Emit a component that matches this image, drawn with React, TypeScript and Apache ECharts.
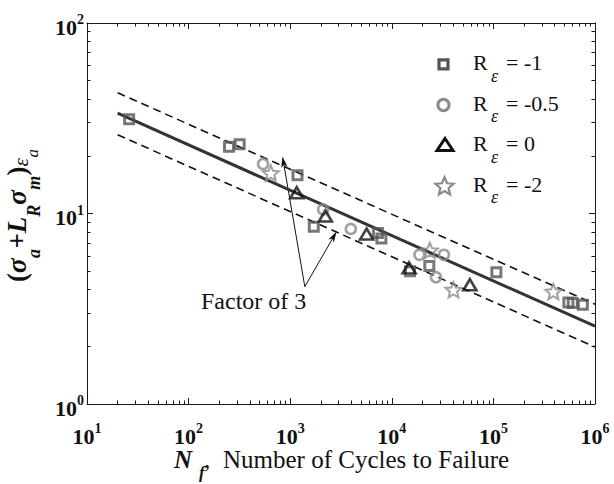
import React, { useEffect, useRef } from 'react';
import * as echarts from 'echarts';

// ---------------- data ----------------
const seriesNames = ['R_ε = -1', 'R_ε = -0.5', 'R_ε = 0', 'R_ε = -2'];
const legendValues = ['= -1', '= -0.5', '= 0', '= -2'];

const rEpsMinus1: number[][] = [
  [26, 31.2], [250, 22.4], [318, 23.1], [1180, 15.9], [1706, 8.53],
  [7300, 7.9], [7900, 7.4], [15100, 4.97], [23400, 5.3], [107000, 4.92],
  [547000, 3.41], [604000, 3.39], [759000, 3.32],
];
const rEpsMinus05: number[][] = [
  [541, 18.2], [2110, 10.5], [3950, 8.3], [18700, 6.07], [32600, 6.07], [27200, 4.63],
];
const rEpsZero: number[][] = [
  [1160, 12.85], [2220, 9.7], [5650, 7.8], [14800, 5.18], [58700, 4.23],
];
const rEpsMinus2: number[][] = [
  [644, 16.3], [23700, 6.4], [40500, 3.98], [389000, 3.89],
];

const fitLine: number[][] = [[20, 33.6], [1e6, 2.56]];
const upperBand: number[][] = [[20, 43], [1e6, 3.34]];
const lowerBand: number[][] = [[20, 25.9], [1e6, 1.99]];

const arrowTail: number[] = [1393, 4.13];
const arrowTips: number[][] = [[840, 19.9], [2860, 8.04]];
const annotationText = 'Factor of 3';

const xMajorTicks = [10, 100, 1000, 10000, 100000, 1000000];
const yMajorTicks = [1, 10, 100];
const minorSteps = [2, 3, 4, 5, 6, 7, 8, 9];
const xMinorTicks = xMajorTicks.slice(0, -1).flatMap((d) => minorSteps.map((m) => m * d));
const yMinorTicks = yMajorTicks.slice(0, -1).flatMap((d) => minorSteps.map((m) => m * d));

// axis-title pieces: [text, style key]
const xTitlePieces: [string, string][] = [['N', 'bi'], ['f', 'bs'], [',', 'r'], ['Number of Cycles to Failure', 'r']];
const yTitlePieces: [string, string][] = [
  ['(', 'b'], ['σ', 'bi'], ['a', 'bs'], ['+', 'b'], ['L', 'bi'], ['R', 'bs'],
  ['σ', 'bi'], ['m', 'bs'], [')', 'b'], ['ε', 'ii'], ['a', 'is'],
];

// ---------------- styles / layout ----------------
const SERIF = '"Liberation Serif", "Times New Roman", Times, serif';
const AX = '#1a1a1a';
const INK = '#111111';
const STAR =
  'path://M50,0 L63.23,31.8 L97.55,34.55 L71.4,56.95 L79.39,90.45 L50,72.5 L20.61,90.45 L28.6,56.95 L2.45,34.55 L36.77,31.8 Z';

const hollow = (c: string, w: number) => ({ color: 'rgba(0,0,0,0)', borderColor: c, borderWidth: w });

const markerStyles = [
  { symbol: 'rect', size: 9 as any, stroke: '#555555', bw: 3 },
  { symbol: 'circle', size: 10 as any, stroke: '#8a8a8a', bw: 2.6 },
  { symbol: 'triangle', size: [13, 11] as any, stroke: '#111111', bw: 2.6 },
  { symbol: STAR, size: 16 as any, stroke: '#8a8a8a', bw: 2 },
];

const tickFmt = (v: number) => `{b|10}{e|${Math.round(Math.log10(v))}}`;

function baseAxis(min: number, max: number) {
  return {
    type: 'log',
    logBase: 10,
    min,
    max,
    silent: true,
    splitLine: { show: false },
    minorTick: { show: false },
    minorSplitLine: { show: false },
    axisPointer: { show: false },
  };
}

function majorAxis(min: number, max: number, position: string, labels: any) {
  return {
    ...baseAxis(min, max),
    position,
    axisLine: { show: true, onZero: false, lineStyle: { color: AX, width: 1 } },
    axisTick: { show: true, inside: true, length: 6, lineStyle: { color: AX, width: 1 } },
    axisLabel: labels || { show: false },
  };
}

function minorAxis(min: number, max: number, position: string, values: number[]) {
  return {
    ...baseAxis(min, max),
    position,
    axisLine: { show: false, onZero: false },
    axisTick: { show: true, inside: true, length: 3.5, customValues: values, lineStyle: { color: AX, width: 1 } },
    axisLabel: { show: false },
  };
}

// text helper: y given as alphabetic baseline, converted to the 'central' middle
const txt = (id: string, text: string, x: number, baseline: number, size: number, weight = 'normal', style = 'normal') => ({
  id,
  type: 'text',
  x,
  y: baseline - 0.3375 * size,
  silent: true,
  style: {
    text,
    fontFamily: SERIF,
    fontSize: size,
    fontWeight: weight,
    fontStyle: style,
    fill: INK,
    align: 'left',
    verticalAlign: 'middle',
  },
});

export default function App() {
  const ref = useRef<HTMLDivElement>(null);

  useEffect(() => {
    if (!ref.current) return;
    const chart = echarts.init(ref.current, undefined, { renderer: 'svg' });

    const xLabels = {
      show: true,
      margin: 21,
      formatter: tickFmt,
      color: INK,
      rich: {
        b: { fontFamily: SERIF, fontWeight: 'bold', fontSize: 22, lineHeight: 22, color: INK },
        e: { fontFamily: SERIF, fontWeight: 'bold', fontSize: 14, lineHeight: 22, color: INK, padding: [0, 0, 15, 0] },
      },
    };
    const yLabels = {
      show: true,
      margin: 3,
      formatter: tickFmt,
      color: INK,
      rich: {
        b: { fontFamily: SERIF, fontWeight: 'bold', fontSize: 22, lineHeight: 22, color: INK, padding: [8, 0, 0, 0] },
        e: { fontFamily: SERIF, fontWeight: 'bold', fontSize: 14, lineHeight: 22, color: INK, padding: [0, 0, 7, 0] },
      },
    };

    const scatterData = [rEpsMinus1, rEpsMinus05, rEpsZero, rEpsMinus2];

    // ---- x-axis title ----
    const xPieceLayout = [
      { x: 174, base: 468.3, size: 25 },
      { x: 199, base: 478.3, size: 17 },
      { x: 204, base: 468.3, size: 25 },
      { x: 223, base: 468.3, size: 25 },
    ];
    const styleOf = (k: string) => ({
      weight: k === 'b' || k === 'bi' || k === 'bs' ? 'bold' : 'normal',
      italic: k === 'bi' || k === 'bs' || k === 'ii' || k === 'is' ? 'italic' : 'normal',
    });
    const xTitleGraphics = xTitlePieces.map(([t, k], i) => {
      const s = styleOf(k);
      const L = xPieceLayout[i];
      return txt('xt' + i, t, L.x, L.base, L.size, s.weight, s.italic);
    });

    // ---- y-axis title (rotated group; u = distance along reading direction) ----
    const yPieceLayout = [
      { u: 0, base: 26, size: 27 },
      { u: 9, base: 26, size: 27 },
      { u: 23.9, base: 40, size: 18 },
      { u: 33.4, base: 26, size: 27 },
      { u: 48.8, base: 26, size: 27 },
      { u: 65.3, base: 40, size: 18 },
      { u: 77.3, base: 26, size: 27 },
      { u: 92.2, base: 40, size: 18 },
      { u: 106.5, base: 26, size: 27 },
      { u: 115.5, base: 28.5, size: 21 },
      { u: 124.5, base: 38.5, size: 17 },
    ];
    const yTitleGroup = {
      id: 'ytitle',
      type: 'group',
      x: 0,
      y: 282,
      rotation: Math.PI / 2,
      silent: true,
      children: yTitlePieces.map(([t, k], i) => {
        const s = styleOf(k);
        const L = yPieceLayout[i];
        return txt('yt' + i, t, L.u, L.base, L.size, s.weight, s.italic);
      }),
    };

    // ---- legend (drawn with graphic so every icon keeps its own size) ----
    const legendBaselines = [70, 110.5, 151, 191.5];
    const legendIconCenters = [
      [443.5, 64.3],
      [443.5, 105],
      [445, 144.5],
      [444.5, 186.7],
    ];
    const legendIcons: any[] = [
      {
        type: 'rect',
        shape: { x: legendIconCenters[0][0] - 4.5, y: legendIconCenters[0][1] - 4.5, width: 9, height: 9 },
        style: { fill: 'none', stroke: '#555555', lineWidth: 3.2 },
      },
      {
        type: 'circle',
        shape: { cx: legendIconCenters[1][0], cy: legendIconCenters[1][1], r: 5.6 },
        style: { fill: 'none', stroke: '#8a8a8a', lineWidth: 3 },
      },
      {
        type: 'polygon',
        shape: {
          points: [
            [legendIconCenters[2][0], legendIconCenters[2][1] - 6],
            [legendIconCenters[2][0] + 8, legendIconCenters[2][1] + 6],
            [legendIconCenters[2][0] - 8, legendIconCenters[2][1] + 6],
          ],
        },
        style: { fill: 'none', stroke: '#111111', lineWidth: 3, lineJoin: 'miter' },
      },
      {
        type: 'polygon',
        shape: {
          points: Array.from({ length: 10 }, (_, k) => {
            const r = k % 2 === 0 ? 9.5 : 4.3;
            const a = -Math.PI / 2 + (k * Math.PI) / 5;
            return [legendIconCenters[3][0] + r * Math.cos(a), legendIconCenters[3][1] + r * Math.sin(a)];
          }),
        },
        style: { fill: 'none', stroke: '#8a8a8a', lineWidth: 2.2 },
      },
    ].map((g, i) => ({ id: 'legIcon' + i, silent: true, ...g }));
    const legendTexts = seriesNames.flatMap((name, i) => {
      const b = legendBaselines[i];
      return [
        txt('legR' + i, name.split('_')[0], 473, b, 22),
        txt('legE' + i, 'ε', 491, b + 11.7, 18, 'normal', 'italic'),
        txt('legV' + i, legendValues[i], 506, b, 22),
      ];
    });

    const baseGraphics: any[] = [
      txt('factor', annotationText, 201, 309.5, 24),
      ...xTitleGraphics,
      yTitleGroup,
      ...legendIcons,
      ...legendTexts,
    ];

    const option: any = {
      animation: false,
      backgroundColor: '#ffffff',
      textStyle: { fontFamily: SERIF },
      grid: { left: 87, top: 23, right: 19, bottom: 80, outerBoundsMode: 'none', containLabel: false },
      xAxis: [
        majorAxis(10, 1e6, 'bottom', xLabels),
        minorAxis(10, 1e6, 'bottom', xMinorTicks),
        majorAxis(10, 1e6, 'top', null),
        minorAxis(10, 1e6, 'top', xMinorTicks),
      ],
      yAxis: [
        majorAxis(1, 100, 'left', yLabels),
        minorAxis(1, 100, 'left', yMinorTicks),
        majorAxis(1, 100, 'right', null),
        minorAxis(1, 100, 'right', yMinorTicks),
      ],
      series: [
        {
          type: 'line',
          name: 'fit',
          data: fitLine,
          symbol: 'none',
          silent: true,
          z: 2,
          lineStyle: { color: '#333333', width: 3 },
        },
        {
          type: 'line',
          name: 'upper',
          data: upperBand,
          symbol: 'none',
          silent: true,
          z: 2,
          lineStyle: { color: INK, width: 1.6, type: [8, 5] },
        },
        {
          type: 'line',
          name: 'lower',
          data: lowerBand,
          symbol: 'none',
          silent: true,
          z: 2,
          lineStyle: { color: INK, width: 1.6, type: [8, 5] },
        },
        ...seriesNames.map((name, i) => ({
          type: 'scatter',
          name,
          data: scatterData[i],
          symbol: markerStyles[i].symbol,
          symbolSize: markerStyles[i].size,
          symbolKeepAspect: true,
          silent: true,
          z: 4,
          itemStyle: hollow(markerStyles[i].stroke, markerStyles[i].bw),
        })),
      ],
      graphic: baseGraphics,
    };

    chart.setOption(option);

    // arrows of the "Factor of 3" annotation, positioned through the axes' scales
    const toPx = (p: number[]) => chart.convertToPixel({ xAxisIndex: 0, yAxisIndex: 0 } as any, p) as number[];
    const tail = toPx(arrowTail);
    const arrowGraphics: any[] = [];
    arrowTips.forEach((tipVal, i) => {
      const tip = toPx(tipVal);
      const dx = tip[0] - tail[0];
      const dy = tip[1] - tail[1];
      const L = Math.hypot(dx, dy);
      const ux = dx / L;
      const uy = dy / L;
      const headLen = 11;
      const halfW = 3.2;
      const bx = tip[0] - ux * headLen;
      const by = tip[1] - uy * headLen;
      arrowGraphics.push({
        id: 'arrowLine' + i,
        type: 'line',
        silent: true,
        shape: { x1: tail[0], y1: tail[1], x2: tip[0] - ux * 7, y2: tip[1] - uy * 7 },
        style: { stroke: INK, lineWidth: 1 },
      });
      arrowGraphics.push({
        id: 'arrowHead' + i,
        type: 'polygon',
        silent: true,
        shape: {
          points: [
            [tip[0], tip[1]],
            [bx - uy * halfW, by + ux * halfW],
            [tip[0] - ux * 8, tip[1] - uy * 8],
            [bx + uy * halfW, by - ux * halfW],
          ],
        },
        style: { fill: INK },
      });
    });
    chart.setOption({ graphic: [...baseGraphics, ...arrowGraphics] });

    return () => chart.dispose();
  }, []);

  return (
    <div
      ref={ref}
      style={{ position: 'absolute', left: 0, top: 0, width: 614, height: 484, background: '#fff' }}
    />
  );
}
